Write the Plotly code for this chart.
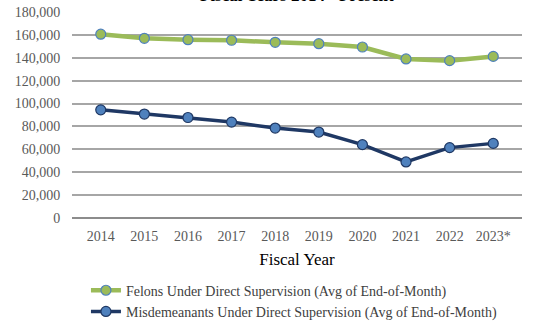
import plotly.graph_objects as go

years = ["2014", "2015", "2016", "2017", "2018", "2019", "2020", "2021", "2022", "2023*"]
felons = [160600, 157000, 155800, 155300, 153500, 152300, 149400, 139000, 137500, 141200]
misdemeanants = [94500, 90800, 87800, 83800, 78600, 75100, 64100, 49000, 61500, 65200]
y_ticks = list(range(0, 180001, 20000))
y_labels = [f"{v:,}" for v in y_ticks]

SERIF = "Liberation Serif"

fig = go.Figure()
fig.add_trace(go.Scatter(
    x=years, y=felons, mode="lines+markers",
    name="Felons Under Direct Supervision (Avg of End-of-Month)",
    line=dict(color="#9BBB59", width=4.5),
    marker=dict(size=10, color="#9BBB59", line=dict(color="#4F81BD", width=1.2)),
))
fig.add_trace(go.Scatter(
    x=years, y=misdemeanants, mode="lines+markers",
    name="Misdemeanants Under Direct Supervision (Avg of End-of-Month)",
    line=dict(color="#1F3864", width=3.5),
    marker=dict(size=10, color="#4F81BD", line=dict(color="#1F3864", width=1.2)),
))

fig.update_layout(
    width=544, height=325,
    margin=dict(l=72, r=22, t=12, b=107, autoexpand=False),
    paper_bgcolor="white", plot_bgcolor="white",
    font=dict(family=SERIF, color="#595959", size=14),
    showlegend=True,
    legend=dict(orientation="v", x=0.031, xanchor="left", y=-0.275, yanchor="top",
                font=dict(family=SERIF, size=14, color="#404040"),
                itemwidth=30, tracegroupgap=0, bgcolor="rgba(0,0,0,0)"),
    annotations=[dict(text="<b>Fiscal Years 2014 - Present</b>", xref="paper", yref="paper",
                      x=0.5, y=1, xanchor="center", yanchor="bottom", yshift=5,
                      showarrow=False, font=dict(family=SERIF, size=17, color="black"))],
)
fig.update_xaxes(
    type="category", showgrid=False, showline=False, automargin=False,
    ticks="outside", ticklen=5, tickcolor="rgba(0,0,0,0)",
    tickfont=dict(family=SERIF, size=14, color="#595959"),
    title=dict(text="Fiscal Year", font=dict(family=SERIF, size=17, color="black"), standoff=10),
)
fig.update_yaxes(
    range=[0, 180000], tickvals=y_ticks, ticktext=y_labels, automargin=False,
    showgrid=True, gridcolor="#A6A6A6", gridwidth=1.5, zeroline=True, zerolinecolor="#8C8C8C", zerolinewidth=1.5,
    ticks="outside", ticklen=8, tickcolor="rgba(0,0,0,0)",
    tickfont=dict(family=SERIF, size=14, color="#595959"),
)

fig.write_html("out.html", config={"displayModeBar": False},
               post_script="document.body.style.margin='0';")
